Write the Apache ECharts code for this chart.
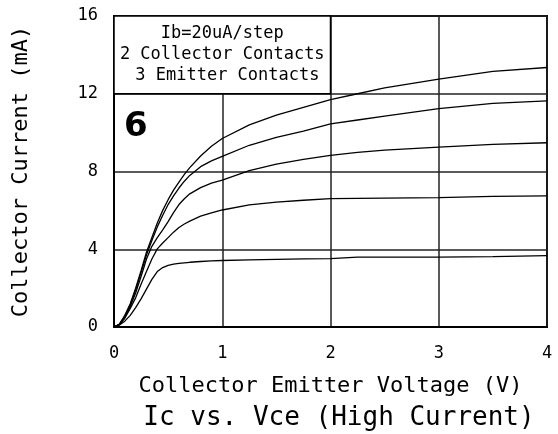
<!DOCTYPE html>
<html>
<head>
<meta charset="utf-8">
<script src="https://cdn.jsdelivr.net/npm/echarts@6/dist/echarts.min.js"></script>
<style>
  html, body { margin: 0; padding: 0; background: #fff; }
  #chart { width: 558px; height: 434px; }
</style>
</head>
<body>
<div id="chart"></div>
<script>
// Collector-emitter voltage samples (V)
const vce = [0, 0.05, 0.1, 0.15, 0.2, 0.25, 0.3, 0.35, 0.4, 0.45, 0.5, 0.55, 0.6, 0.65, 0.7,
             0.8, 0.9, 1.0, 1.25, 1.5, 1.75, 2.0, 2.25, 2.5, 3.0, 3.5, 4.0];

// Collector current (mA) per base-current step, 20 uA apart
const ic20  = [0, 0.1, 0.3, 0.6, 1.0, 1.45, 1.95, 2.45, 2.85, 3.06, 3.17, 3.23, 3.27, 3.3, 3.33,
               3.37, 3.4, 3.42, 3.45, 3.48, 3.5, 3.52, 3.6, 3.6, 3.6, 3.62, 3.67];
const ic40  = [0, 0.12, 0.45, 0.95, 1.5, 2.2, 2.85, 3.5, 4.02, 4.32, 4.6, 4.88, 5.12, 5.3, 5.45,
               5.7, 5.87, 6.02, 6.28, 6.42, 6.52, 6.6, 6.62, 6.63, 6.66, 6.72, 6.75];
const ic60  = [0, 0.13, 0.5, 1.05, 1.75, 2.6, 3.5, 4.15, 4.6, 5.0, 5.42, 5.88, 6.3, 6.6, 6.85,
               7.17, 7.4, 7.56, 8.05, 8.38, 8.62, 8.83, 8.98, 9.1, 9.25, 9.4, 9.48];
const ic80  = [0, 0.14, 0.55, 1.12, 1.9, 2.8, 3.7, 4.45, 5.15, 5.75, 6.3, 6.75, 7.15, 7.5, 7.8,
               8.25, 8.55, 8.78, 9.35, 9.75, 10.08, 10.45, 10.65, 10.85, 11.24, 11.5, 11.63];
const ic100 = [0, 0.15, 0.6, 1.2, 2.0, 2.9, 3.85, 4.6, 5.35, 6.0, 6.55, 7.04, 7.45, 7.85, 8.2,
               8.8, 9.3, 9.7, 10.4, 10.9, 11.3, 11.7, 12.0, 12.3, 12.75, 13.15, 13.35];

const curves = [ic20, ic40, ic60, ic80, ic100];

// Axis ranges and tick spacing
const xTicks = { min: 0, max: 4, step: 1 };
const yTicks = { min: 0, max: 16, step: 4 };

// Annotation text block shown in the upper-left cell
const noteLines = ['Ib=20uA/step', '2 Collector Contacts', ' 3 Emitter Contacts'];
const noteBox = { x0: 0, x1: 2, y0: 12, y1: 16 };
const panelTag = '6';

const FONT = '"DejaVu Sans Mono", monospace';

const chart = echarts.init(document.getElementById('chart'), null, { renderer: 'canvas' });

const series = curves.map((ys, i) => {
  const s = {
    type: 'line',
    data: vce.map((v, k) => [v, ys[k]]),
    showSymbol: false,
    smooth: false,
    lineStyle: { color: '#000', width: 1.3 },
    silent: true,
    z: 3
  };
  if (i === 0) {
    s.markArea = {
      silent: true,
      itemStyle: { color: '#fff', borderColor: '#000', borderWidth: 1.5 },
      label: {
        show: true,
        position: 'inside',
        formatter: noteLines.join('\n'),
        fontFamily: FONT,
        fontSize: 17,
        lineHeight: 21,
        color: '#000',
        align: 'center'
      },
      data: [[{ coord: [noteBox.x0, noteBox.y1] }, { coord: [noteBox.x1, noteBox.y0] }]]
    };
  }
  return s;
});

chart.setOption({
  animation: false,
  backgroundColor: '#fff',
  title: {
    text: 'Ic vs. Vce (High Current)',
    left: 334,
    textAlign: 'center',
    top: 400,
    textStyle: { fontFamily: FONT, fontSize: 26, fontWeight: 'normal', color: '#000' }
  },
  grid: {
    left: 114, right: 11, top: 16, bottom: 107,
    show: true, borderColor: '#000', borderWidth: 2, backgroundColor: 'transparent'
  },
  xAxis: {
    type: 'value',
    min: xTicks.min, max: xTicks.max, interval: xTicks.step,
    name: 'Collector Emitter Voltage (V)',
    nameLocation: 'middle',
    nameGap: 48,
    nameTextStyle: { fontFamily: FONT, fontSize: 22, color: '#000' },
    axisLine: { show: true, lineStyle: { color: '#000', width: 2 } },
    axisTick: { show: false },
    axisLabel: { fontFamily: FONT, fontSize: 17, color: '#000', margin: 18 },
    splitLine: { show: true, lineStyle: { color: '#222', width: 1.5 } }
  },
  yAxis: {
    type: 'value',
    min: yTicks.min, max: yTicks.max, interval: yTicks.step,
    name: 'Collector Current (mA)',
    nameLocation: 'middle',
    nameGap: 82,
    nameTextStyle: { fontFamily: FONT, fontSize: 22, color: '#000' },
    axisLine: { show: true, lineStyle: { color: '#000', width: 2 } },
    axisTick: { show: false },
    axisLabel: { fontFamily: FONT, fontSize: 17, color: '#000', margin: 16 },
    splitLine: { show: true, lineStyle: { color: '#222', width: 1.5 } }
  },
  graphic: [{
    type: 'text',
    left: 124,
    top: 110,
    z: 10,
    style: {
      text: panelTag,
      font: 'bold 34px "DejaVu Sans", sans-serif',
      fill: '#000'
    }
  }],
  series: series
});
</script>
</body>
</html>
